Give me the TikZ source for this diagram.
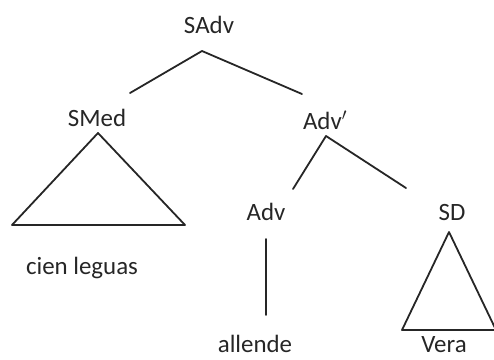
\documentclass[tikz,border=0pt]{standalone}
\usepackage{fontspec}
\setmainfont{Carlito}
\begin{document}
\begin{tikzpicture}[x=1bp,y=-1bp,
  lbl/.style={inner sep=0pt,font=\fontsize{25}{29}\selectfont,text=black!85},
  branch/.style={line width=1.8bp,black!85,line cap=round,line join=round}]
\useasboundingbox (0,0) rectangle (494,359);
% category labels
\node[lbl] (sadv) at (209,25) {SAdv};
\node[lbl] (smed) at (97,118) {SMed};
\node[lbl] (advp) at (325,120) {Adv$'$};
\node[lbl] (adv) at (266,212) {Adv};
\node[lbl] (sd) at (452,212) {SD};
% terminal strings
\node[lbl] (cien) at (82,268) {cien leguas};
\node[lbl] (allende) at (255,344) {allende};
\node[lbl] (vera) at (444,345) {Vera};
% branch end points
\coordinate (sadvtop) at (202,51);
\coordinate (smedend) at (130,93);
\coordinate (advpend) at (302,94);
\coordinate (smedtop) at (98,133);
\coordinate (smedl) at (12,225);
\coordinate (smedr) at (185,225);
\coordinate (advptop) at (326,136);
\coordinate (advend) at (293,189);
\coordinate (sdend) at (406,188);
\coordinate (advtop) at (266,239);
\coordinate (advbot) at (266,315);
\coordinate (sdtop) at (449,232);
\coordinate (sdl) at (402,330);
\coordinate (sdr) at (496,330);
% branches
\draw[branch] (smedend) -- (sadvtop) -- (advpend);
\draw[branch] (smedtop) -- (smedl) -- (smedr) -- cycle;
\draw[branch] (advend) -- (advptop) -- (sdend);
\draw[branch] (advtop) -- (advbot);
\draw[branch] (sdr) -- (sdtop) -- (sdl) -- (sdr);
\end{tikzpicture}
\end{document}
